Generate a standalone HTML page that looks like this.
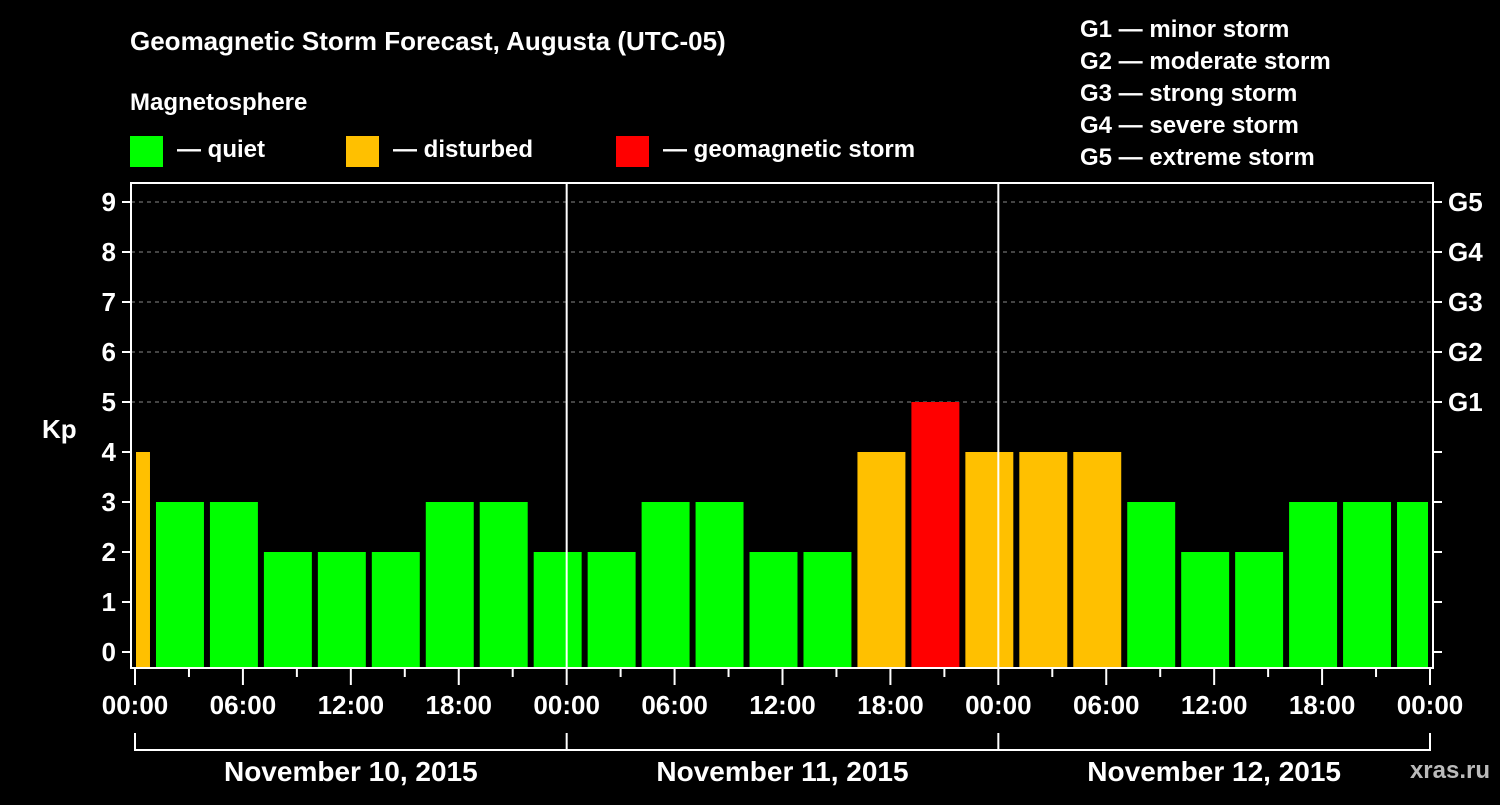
<!DOCTYPE html>
<html><head><meta charset="utf-8"><style>
body{margin:0;background:#000;width:1500px;height:800px;overflow:hidden}
svg text{font-family:"Liberation Sans",Arial,sans-serif;font-weight:bold;fill:#fff}
</style></head><body>
<svg id="c" width="1500" height="800">
<text x="130" y="50" font-size="26">Geomagnetic Storm Forecast, Augusta (UTC-05)</text>
<text x="130" y="110" font-size="24">Magnetosphere</text>
<rect x="130" y="136" width="33" height="31" fill="#00ff00"/>
<text x="177" y="157" font-size="24">— quiet</text>
<rect x="346" y="136" width="33" height="31" fill="#ffc000"/>
<text x="393" y="157" font-size="24">— disturbed</text>
<rect x="616" y="136" width="33" height="31" fill="#ff0000"/>
<text x="663" y="157" font-size="24">— geomagnetic storm</text>
<g font-size="24">
<text x="1080" y="37">G1 — minor storm</text>
<text x="1080" y="69">G2 — moderate storm</text>
<text x="1080" y="101">G3 — strong storm</text>
<text x="1080" y="133">G4 — severe storm</text>
<text x="1080" y="165">G5 — extreme storm</text>
</g>
<text x="42" y="438" font-size="26">Kp</text>
<text x="1490" y="778" font-size="24" text-anchor="end" fill="#bbb" style="fill:#bbb">xras.ru</text>
<g id="plot"></g>
</svg>
<script>
const kpValues=[4,3,3,2,2,2,3,3,2,2,3,3,2,2,4,5,4,4,4,3,2,2,3,3,3];
const binStartHours=[-2,1,4,7,10,13,16,19,22,25,28,31,34,37,40,43,46,49,52,55,58,61,64,67,70];
const yTicks=[0,1,2,3,4,5,6,7,8,9];
const gLabels=["G1","G2","G3","G4","G5"];
const gLevels=[5,6,7,8,9];
const xTickLabels=["00:00","06:00","12:00","18:00","00:00","06:00","12:00","18:00","00:00","06:00","12:00","18:00","00:00"];
const dayLabels=["November 10, 2015","November 11, 2015","November 12, 2015"];
const NS="http://www.w3.org/2000/svg";
const g=document.getElementById('plot');
const x0=135,x1=1430,L=131,R=1433,T=183,B=668;
const xs=h=>x0+(x1-x0)*h/72;
const ys=v=>652-50*v;
function mk(t,a,p){const e=document.createElementNS(NS,t);for(const k in a)e.setAttribute(k,a[k]);(p||g).appendChild(e);return e;}
// grid
gLevels.forEach((v,i)=>{
const l=mk('line',{x1:L,x2:R,y1:ys(v),y2:ys(v),stroke:'#888','stroke-dasharray':'4,4','stroke-width':1});


const t=mk('text',{x:1448,y:ys(v)+9,'font-size':26});t.textContent=gLabels[i];


});
// bars
kpValues.forEach((v,i)=>{
let a=xs(binStartHours[i])+3,b=xs(binStartHours[i]+3)-3;
a=Math.max(a,x0+1);b=Math.min(b,x1-2);
const col=v>=5?'#ff0000':(v>=4?'#ffc000':'#00ff00');
const r=mk('rect',{x:a,y:ys(v),width:b-a,height:B-ys(v),fill:col});


});
// day separators
[1,2].forEach(d=>{mk('line',{x1:xs(24*d),x2:xs(24*d),y1:T,y2:B,stroke:'#fff','stroke-width':2});});
// frame
const f=mk('rect',{x:L,y:T,width:R-L,height:B-T,fill:'none',stroke:'#fff','stroke-width':2});


// y ticks
yTicks.forEach(v=>{
mk('line',{x1:122,x2:L,y1:ys(v),y2:ys(v),stroke:'#fff','stroke-width':2});
mk('line',{x1:R,x2:R+9,y1:ys(v),y2:ys(v),stroke:'#fff','stroke-width':2});
const t=mk('text',{x:116,y:ys(v)+9,'font-size':26,'text-anchor':'end'});t.textContent=v;


});
// x ticks
for(let h=0;h<=72;h+=3){
const long=h%6===0;
mk('line',{x1:xs(h),x2:xs(h),y1:B,y2:B+(long?17:9),stroke:'#fff','stroke-width':2});
}
xTickLabels.forEach((s,i)=>{
const t=mk('text',{x:xs(i*6),y:714,'font-size':26,'text-anchor':'middle'});t.textContent=s;


});
// day brackets
mk('line',{x1:x0,x2:x1,y1:750,y2:750,stroke:'#fff','stroke-width':2});
for(let d=0;d<=3;d++)mk('line',{x1:xs(24*d),x2:xs(24*d),y1:733,y2:751,stroke:'#fff','stroke-width':2});
dayLabels.forEach((s,i)=>{
const t=mk('text',{x:xs(24*i+12),y:781,'font-size':28,'text-anchor':'middle'});t.textContent=s;


});
</script>
</body></html>
